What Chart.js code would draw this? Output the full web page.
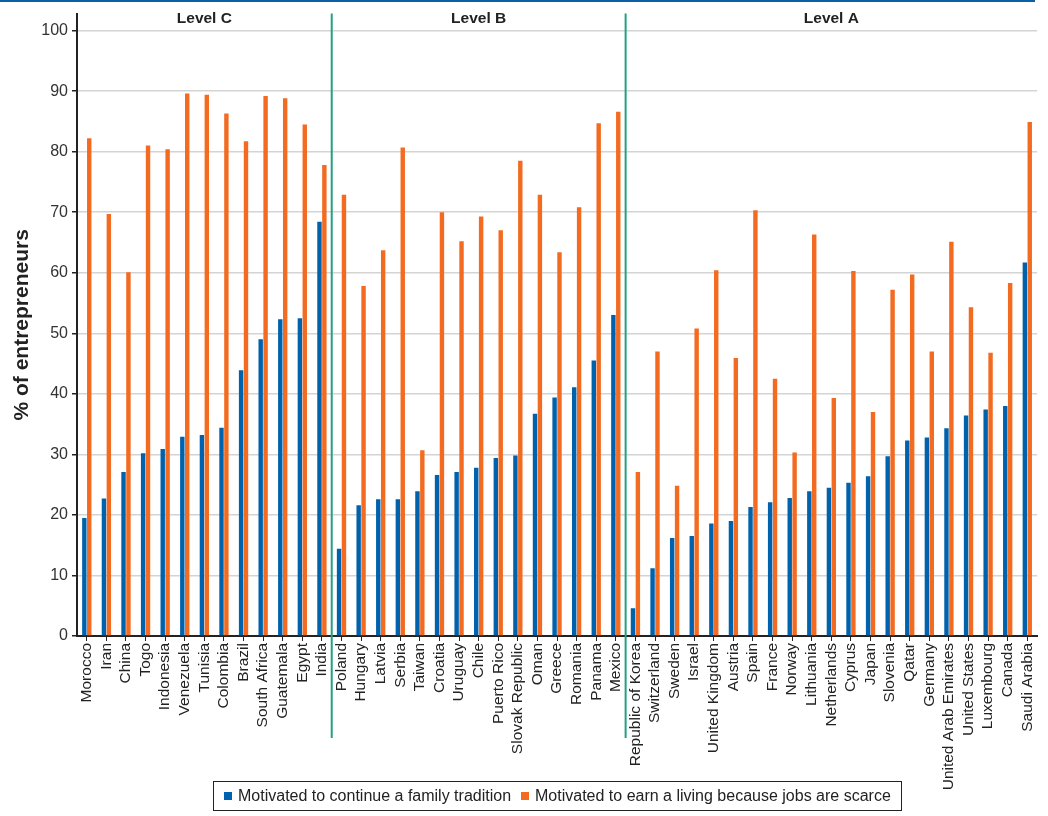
<!DOCTYPE html>
<html>
<head>
<meta charset="utf-8">
<script src="https://cdn.jsdelivr.net/npm/chart.js@4.4.1/dist/chart.umd.min.js"></script>
<style>
    body { margin: 0; background: #fff; }
    #wrap { position: relative; width: 1048px; height: 816px; }
    #legend {
        position: absolute; left: 213px; top: 781px; width: 689px; height: 30px;
        border: 1.5px solid #222; box-sizing: border-box;
        font: 16px "Liberation Sans", Arial, sans-serif; color: #222;
        display: flex; align-items: center; padding-left: 10px;
        white-space: nowrap;
    }
    #legend span.box { display: inline-block; width: 8px; height: 8px; margin-right: 6px; flex: none; }
    #legend span.item { margin-right: 10px; display: flex; align-items: center; flex: none; }
</style>
</head>
<body>
<div id="wrap">
    <canvas id="chart"></canvas>
    <div id="legend"></div>
</div>
<script>
// ------------------------
// DATA
// ------------------------

const countries = [
    "Morocco", "Iran", "China", "Togo", "Indonesia", "Venezuela", "Tunisia", "Colombia",
    "Brazil", "South Africa", "Guatemala", "Egypt", "India",
    "Poland", "Hungary", "Latvia", "Serbia", "Taiwan", "Croatia", "Uruguay", "Chile",
    "Puerto Rico", "Slovak Republic", "Oman", "Greece", "Romania", "Panama", "Mexico",
    "Republic of Korea", "Switzerland", "Sweden", "Israel", "United Kingdom", "Austria",
    "Spain", "France", "Norway", "Lithuania", "Netherlands", "Cyprus", "Japan", "Slovenia",
    "Qatar", "Germany", "United Arab Emirates", "United States", "Luxembourg", "Canada",
    "Saudi Arabia"
];

const familyTradition = [
    19.5, 22.7, 27.1, 30.2, 30.9, 32.9, 33.2, 34.4, 43.9, 49.0, 52.3, 52.5, 68.4,
    14.4, 21.6, 22.6, 22.6, 23.9, 26.6, 27.1, 27.8, 29.4, 29.8, 36.7, 39.4, 41.1, 45.5, 53.0,
    4.6, 11.2, 16.2, 16.5, 18.6, 19.0, 21.3, 22.1, 22.8, 23.9, 24.5, 25.3, 26.4, 29.7,
    32.3, 32.8, 34.3, 36.4, 37.4, 38.0, 61.7
];

const jobsScarce = [
    82.2, 69.7, 60.1, 81.0, 80.4, 89.6, 89.4, 86.3, 81.7, 89.2, 88.8, 84.5, 77.8,
    72.9, 57.8, 63.7, 80.7, 30.7, 70.0, 65.2, 69.3, 67.0, 78.5, 72.9, 63.4, 70.8, 84.7, 86.6,
    27.1, 47.0, 24.8, 50.8, 60.4, 45.9, 70.3, 42.5, 30.3, 66.3, 39.3, 60.3, 37.0, 57.2,
    59.7, 47.0, 65.1, 54.3, 46.8, 58.3, 84.9
];

const yTicks = [0, 10, 20, 30, 40, 50, 60, 70, 80, 90, 100];

const levelNames = ["Level C", "Level B", "Level A"];
const levelSizes = [13, 15, 21];

const seriesNames = [
    "Motivated to continue a family tradition",
    "Motivated to earn a living because jobs are scarce"
];

const BLUE = "#0061ad";
const ORANGE = "#f36a21";
const TEAL = "#22a07f";
const FONT = '"Liberation Sans", Arial, sans-serif';

// ------------------------
// LEVEL DIVIDERS + TITLES
// ------------------------

const levelsPlugin = {
    id: "levels",
    afterDatasetsDraw(chart) {
        const { ctx, chartArea, scales: { x } } = chart;
        const half = (x.getPixelForValue(1) - x.getPixelForValue(0)) / 2;

        ctx.save();

        // thin blue band on top
        ctx.fillStyle = "#0a5fa6";
        ctx.fillRect(0, 0, 1035, 2);

        let start = 0;
        levelNames.forEach((name, i) => {
            const end = start + levelSizes[i] - 1;
            const left = x.getPixelForValue(start) - half;
            const right = x.getPixelForValue(end) + half;

            if (i > 0) {
                ctx.strokeStyle = TEAL;
                ctx.lineWidth = 2;
                ctx.beginPath();
                ctx.moveTo(left, chartArea.top);
                ctx.lineTo(left, 738);
                ctx.stroke();
            }

            ctx.fillStyle = "#222";
            ctx.font = "bold 15.5px " + FONT;
            ctx.textAlign = "center";
            ctx.textBaseline = "middle";
            ctx.fillText(name, (left + right) / 2, 19);

            start = end + 1;
        });

        ctx.restore();
    }
};

// ------------------------
// CHART
// ------------------------

const chart = new Chart(document.getElementById("chart"), {
    type: "bar",
    data: {
        labels: countries,
        datasets: [
            {
                label: seriesNames[0],
                data: familyTradition,
                backgroundColor: BLUE,
                categoryPercentage: 0.5,
                barPercentage: 0.9
            },
            {
                label: seriesNames[1],
                data: jobsScarce,
                backgroundColor: ORANGE,
                categoryPercentage: 0.5,
                barPercentage: 0.9
            }
        ]
    },
    options: {
        responsive: true,
        maintainAspectRatio: false,
        animation: false,
        layout: { padding: { top: 13, right: 10, left: 0, bottom: 0 } },
        plugins: {
            legend: { display: false },
            tooltip: { enabled: false }
        },
        scales: {
            x: {
                afterFit: s => { s.height = 180; },
                border: { color: "#222", width: 2 },
                grid: {
                    offset: false,
                    drawOnChartArea: false,
                    drawTicks: true,
                    tickLength: 5,
                    tickColor: "#222"
                },
                ticks: {
                    autoSkip: false,
                    maxRotation: 90,
                    minRotation: 90,
                    padding: 2,
                    color: "#222",
                    font: { family: FONT, size: 15.5 }
                }
            },
            y: {
                min: 0,
                max: 102.8,
                afterFit: s => { s.width = 77; },
                afterBuildTicks: s => {
                    s.ticks = yTicks.map(v => ({ value: v }));
                },
                border: { color: "#222", width: 2 },
                grid: {
                    color: "#d4d4d4",
                    lineWidth: 1.5,
                    tickLength: 5,
                    tickColor: "#222"
                },
                ticks: {
                    padding: 4,
                    color: "#333",
                    font: { family: FONT, size: 16 }
                },
                title: {
                    display: true,
                    text: "% of entrepreneurs",
                    color: "#222",
                    padding: { top: 10 },
                    font: { family: FONT, size: 21, weight: "bold" }
                }
            }
        }
    },
    plugins: [levelsPlugin]
});

// ------------------------
// LEGEND
// ------------------------

document.getElementById("legend").innerHTML = chart.data.datasets.map(d =>
    `<span class="item"><span class="box" style="background:${d.backgroundColor}"></span>${d.label}</span>`
).join("");
</script>
</body>
</html>
